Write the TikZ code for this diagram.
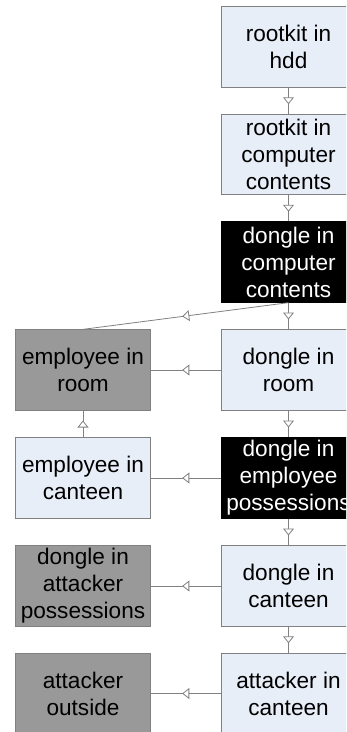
\documentclass[tikz,border=0pt]{standalone}
\usepackage{fontspec}
\setmainfont{Liberation Sans}
\usetikzlibrary{arrows.meta,decorations.markings}

\definecolor{boxlight}{RGB}{232,238,248}
\definecolor{boxgray}{RGB}{153,153,153}
\definecolor{edgegray}{RGB}{128,128,128}

\tikzset{
  state/.style={draw=edgegray, line width=0.8pt, minimum width=135pt,
    minimum height=80.5pt, inner sep=0pt, align=center,
    font=\fontsize{22.6}{27}\selectfont},
  lightbox/.style={state, fill=boxlight, text=black},
  graybox/.style={state, fill=boxgray, text=black},
  blackbox/.style={state, draw=black, fill=black, text=white},
  link/.style={draw=edgegray, line width=0.8pt, postaction={decorate},
    decoration={markings, mark=at position 0.5 with
      {\arrow[xshift=3.5pt, edgegray]{Triangle[length=7pt, width=11pt, fill=white, line width=0.8pt]}}}}
}

\begin{document}
\begin{tikzpicture}[x=1pt, y=-1pt]
  \useasboundingbox (0,0) rectangle (346,732);
  \clip (0,0) rectangle (346,732);

  % right column: dongle path
  \node[lightbox] (r1) at (288.5,47)    {rootkit in\\hdd};
  \node[lightbox] (r2) at (288.5,154.5) {rootkit in\\computer\\contents};
  \node[blackbox] (r3) at (288.5,262)   {dongle in\\computer\\contents};
  \node[lightbox] (r4) at (288.5,370)   {dongle in\\room};
  \node[blackbox] (r5) at (288.5,478)   {dongle in\\employee\\possessions};
  \node[lightbox] (r6) at (288.5,586)   {dongle in\\canteen};
  \node[lightbox] (r7) at (288.5,693.5) {attacker in\\canteen};

  % left column: prerequisites
  \node[graybox]  (l4) at (83,370)   {employee in\\room};
  \node[lightbox] (l5) at (83,478)   {employee in\\canteen};
  \node[graybox]  (l6) at (83,586)   {dongle in\\attacker\\possessions};
  \node[graybox]  (l7) at (83,693.5) {attacker\\outside};

  % connectors
  \path[link] (r1.south) -- (r2.north);
  \path[link] (r2.south) -- (r3.north);
  \path[link] (r3.south) -- (r4.north);
  \path[link] (r4.south) -- (r5.north);
  \path[link] (r5.south) -- (r6.north);
  \path[link] (r6.south) -- (r7.north);
  \path[link] (r3.south) -- (l4.north);
  \path[link] (r4.west) -- (l4.east);
  \path[link] (r5.west) -- (l5.east);
  \path[link] (r6.west) -- (l6.east);
  \path[link] (r7.west) -- (l7.east);
  \path[link] (l5.north) -- (l4.south);
\end{tikzpicture}
\end{document}
